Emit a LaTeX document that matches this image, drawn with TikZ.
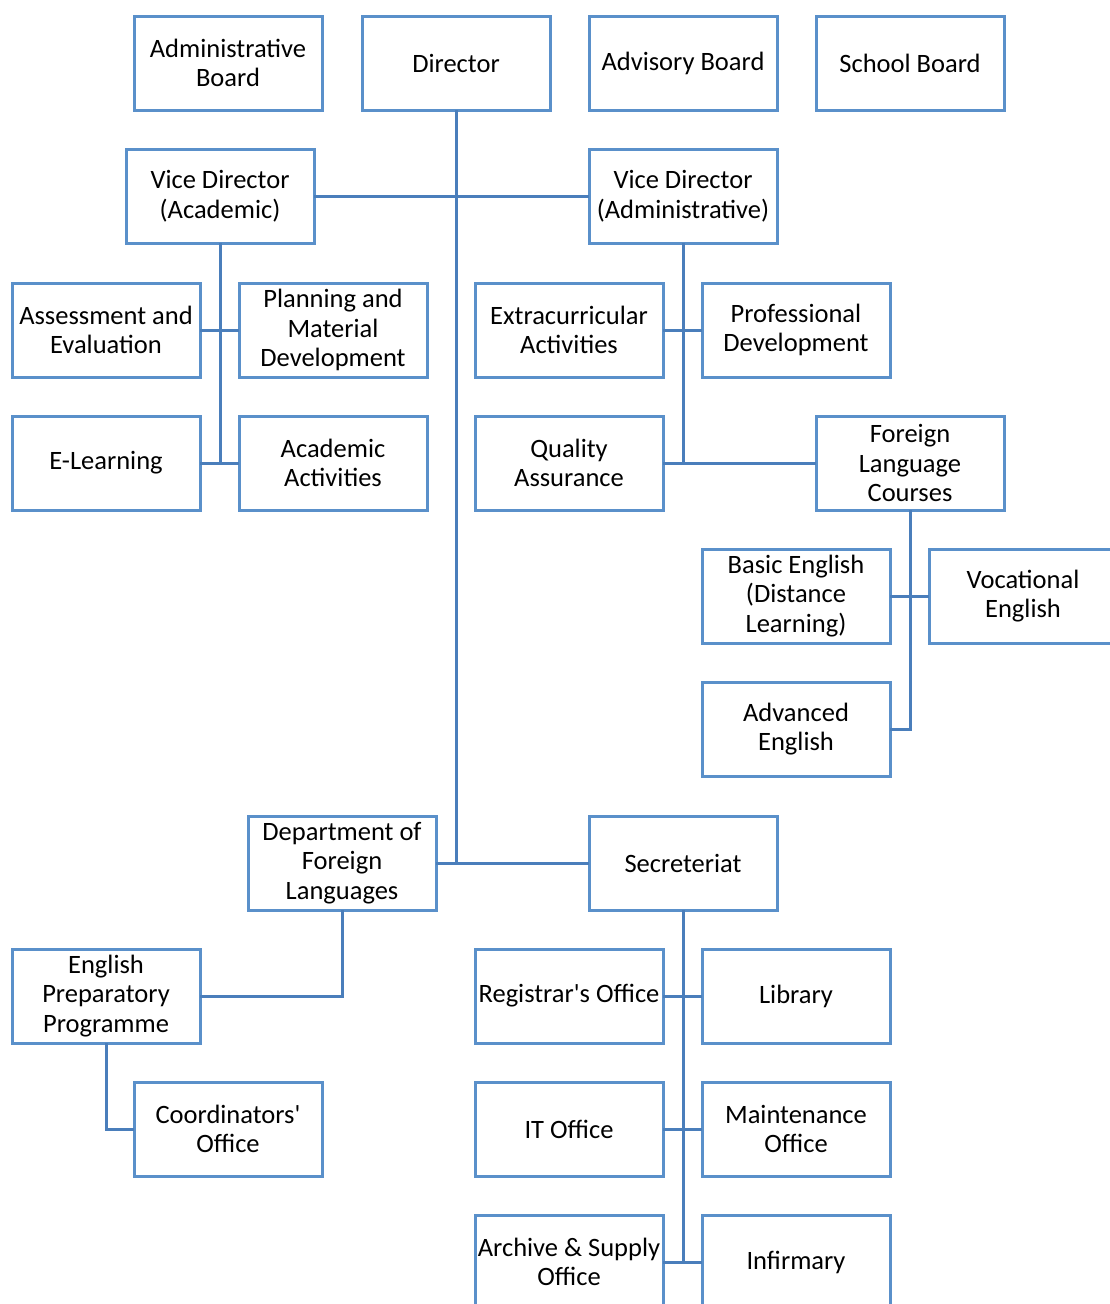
\documentclass[tikz,border=0pt]{standalone}
\usepackage{fontspec}
\setmainfont{Carlito}[Ligatures=TeXOff]
\definecolor{boxblue}{HTML}{5A90CA}
\definecolor{wireblue}{HTML}{4A7EBB}
\begin{document}
\begin{tikzpicture}[x=1pt,y=-1pt,
  unit/.style={draw=boxblue, line width=3pt, fill=white,
    minimum width=188pt, minimum height=94pt, inner sep=0pt, outer sep=0pt,
    align=center, font=\fontsize{26.5}{29.5}\selectfont},
  wire/.style={draw=wireblue, line width=3pt}]
\useasboundingbox (0,0) rectangle (1110,1304);
\clip (0,0) rectangle (1110,1304);

% top row
\node[unit] (admb)  at (228,63)  {Administrative\\Board};
\node[unit] (dir)   at (456,63)  {Director};
\node[unit] (advb)  at (683,63)  {Advisory Board};
\node[unit] (schb)  at (910,63)  {School Board};

% vice directors
\node[unit] (vda)   at (220,196) {Vice Director\\(Academic)};
\node[unit] (vdadm) at (683,196) {Vice Director\\(Administrative)};

% academic units
\node[unit] (assess) at (106,330) {Assessment and\\Evaluation};
\node[unit] (plan)   at (333,330) {Planning and\\Material\\Development};
\node[unit] (elearn) at (106,463) {E-Learning};
\node[unit] (acad)   at (333,463) {Academic\\Activities};

% administrative units
\node[unit] (extra) at (569,330) {Extracurricular\\Activities};
\node[unit] (prof)  at (796,330) {Professional\\Development};
\node[unit] (qa)    at (569,463) {Quality\\Assurance};
\node[unit] (flc)   at (910,463) {Foreign\\Language\\Courses};

% language courses
\node[unit] (basic) at (796,596)  {Basic English\\(Distance\\Learning)};
\node[unit] (voc)   at (1023,596) {Vocational\\English};
\node[unit] (adv)   at (796,729)  {Advanced\\English};

% department and secretariat
\node[unit] (dept)  at (342,863)  {Department of\\Foreign\\Languages};
\node[unit] (sec)   at (683,863)  {Secreteriat};
\node[unit] (prep)  at (106,996)  {English\\Preparatory\\Programme};
\node[unit] (coord) at (228,1129) {Coordinators'\\Office};

\node[unit] (reg)   at (569,996)  {Registrar's Office};
\node[unit] (lib)   at (796,996)  {Library};
\node[unit] (it)    at (569,1129) {IT Office};
\node[unit] (maint) at (796,1129) {Maintenance\\Office};
\node[unit] (arch)  at (569,1262) {Archive \& Supply\\Office};
\node[unit] (inf)   at (796,1262) {Infirmary};

% main trunk
\draw[wire] (dir.south) -- (dir.south |- sec.west);
\draw[wire] (vda.east) -- (vdadm.west);
\draw[wire] (dept.east) -- (sec.west);

% academic branch
\draw[wire] (vda.south) -- (vda.south |- elearn.east);
\draw[wire] (assess.east) -- (plan.west);
\draw[wire] (elearn.east) -- (acad.west);

% administrative branch
\draw[wire] (vdadm.south) -- (vdadm.south |- qa.east);
\draw[wire] (extra.east) -- (prof.west);
\draw[wire] (qa.east) -- (flc.west);

% language courses
\draw[wire] (flc.south) |- (adv.east);
\draw[wire] (basic.east) -- (voc.west);

% department
\draw[wire] (dept.south) |- (prep.east);
\draw[wire] (prep.south) |- (coord.west);

% secretariat
\draw[wire] (sec.south) -- (sec.south |- arch.east);
\draw[wire] (reg.east) -- (lib.west);
\draw[wire] (it.east) -- (maint.west);
\draw[wire] (arch.east) -- (inf.west);
\end{tikzpicture}
\end{document}
